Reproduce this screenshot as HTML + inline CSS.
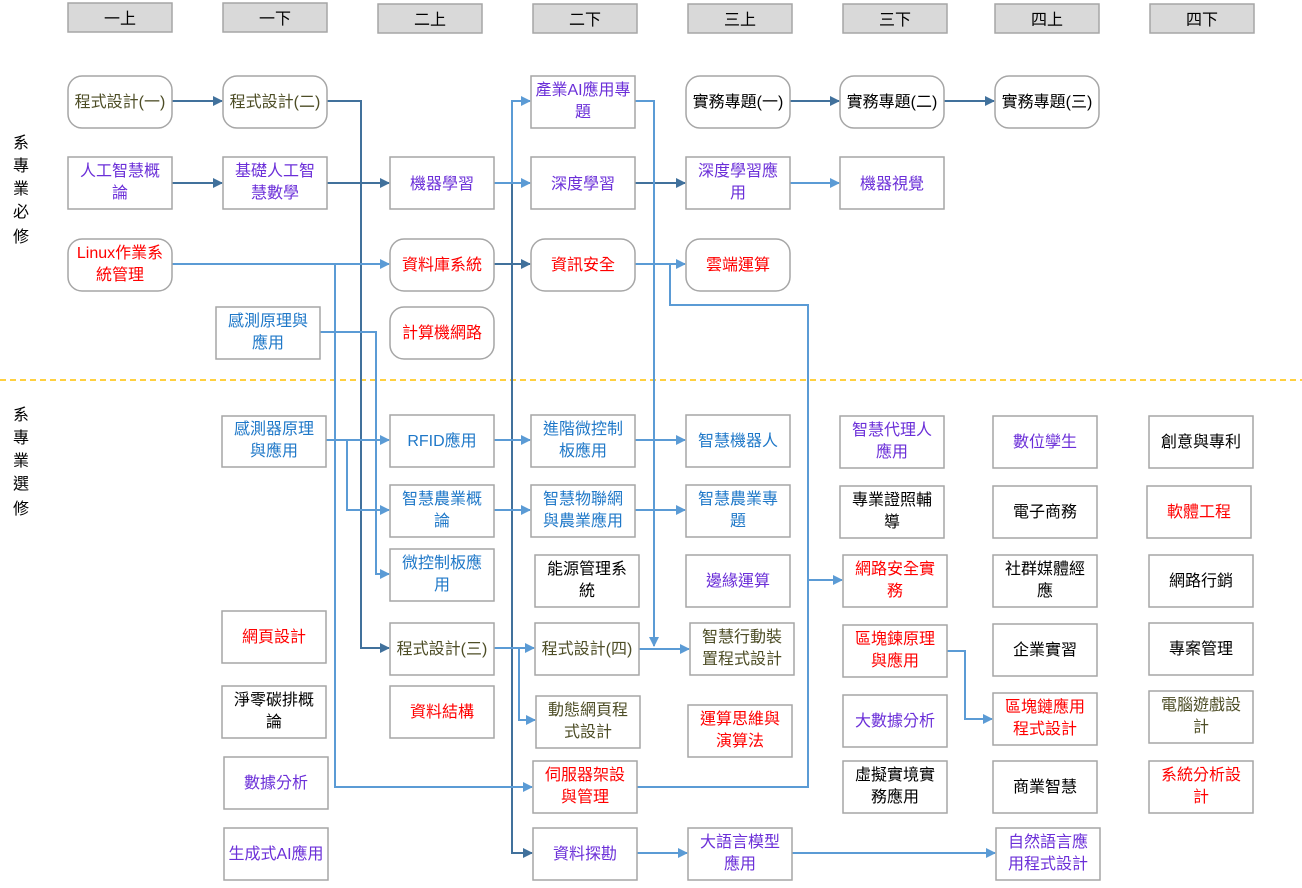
<!DOCTYPE html>
<html><head><meta charset="utf-8"><style>
html,body{margin:0;padding:0;background:#fff;}
svg text{font-family:"Liberation Sans","Noto Sans CJK TC",sans-serif;font-size:16px;text-anchor:middle;}
</style></head><body>
<svg width="1302" height="883" viewBox="0 0 1302 883" xmlns="http://www.w3.org/2000/svg">
<defs>
<marker id="ad" markerWidth="10" markerHeight="10" refX="9" refY="5" orient="auto" markerUnits="userSpaceOnUse"><path d="M0,0 L10,5 L0,10 z" fill="#41719c"/></marker>
<marker id="al" markerWidth="10" markerHeight="10" refX="9" refY="5" orient="auto" markerUnits="userSpaceOnUse"><path d="M0,0 L10,5 L0,10 z" fill="#5b9bd5"/></marker>
</defs>
<g fill="#d9d9d9" stroke="#a6a6a6" stroke-width="1.5">
<rect x="68" y="3" width="104" height="29"/><rect x="223" y="3" width="104" height="29"/><rect x="378" y="4" width="104" height="29"/><rect x="533" y="4" width="104" height="29"/><rect x="688" y="4" width="104" height="29"/><rect x="843" y="4" width="104" height="29"/><rect x="995" y="4" width="104" height="29"/><rect x="1150" y="4" width="104" height="29"/>
</g>
<g fill="#000" style="font-size:17px">
<text x="120" y="24">一上</text><text x="275" y="24">一下</text><text x="430" y="25">二上</text><text x="585" y="25">二下</text><text x="740" y="25">三上</text><text x="895" y="25">三下</text><text x="1047" y="25">四上</text><text x="1202" y="25">四下</text>
</g>
<g fill="#000" style="font-size:18px">
<text x="21" y="148">系</text><text x="21" y="171">專</text><text x="21" y="194">業</text><text x="21" y="217">必</text><text x="21" y="242">修</text>
<text x="21" y="420">系</text><text x="21" y="443">專</text><text x="21" y="466">業</text><text x="21" y="489">選</text><text x="21" y="514">修</text>
</g>
<line x1="0" y1="380" x2="1302" y2="380" stroke="#ffc000" stroke-width="1.5" stroke-dasharray="6,4"/>

<!-- connectors -->
<g fill="none" stroke-width="2">
<g stroke="#41719c">
<path d="M172,101H222" marker-end="url(#ad)"/>
<path d="M172,183H222" marker-end="url(#ad)"/>
<path d="M327,183H389" marker-end="url(#ad)"/>
<path d="M327,101H361V648H389" marker-end="url(#ad)"/>
<path d="M635,183H685" marker-end="url(#ad)"/>
<path d="M790,101H839" marker-end="url(#ad)"/>
<path d="M944,101H994" marker-end="url(#ad)"/>
<path d="M494,264H530" marker-end="url(#ad)"/>
<path d="M512,183V853H532" marker-end="url(#ad)"/>
</g>
<g stroke="#5b9bd5">
<path d="M494,183H530" marker-end="url(#al)"/>
<path d="M790,183H839" marker-end="url(#al)"/>
<path d="M172,264H389" marker-end="url(#al)"/>
<path d="M335,264V787H532" marker-end="url(#al)"/>
<path d="M635,264H685" marker-end="url(#al)"/>
<path d="M670,264V305H808V787H637"/>
<path d="M808,580H842" marker-end="url(#al)"/>
<path d="M512,183V101H530" marker-end="url(#al)"/>
<path d="M635,101H654V646" marker-end="url(#al)"/>
<path d="M639,649H689" marker-end="url(#al)"/>
<path d="M320,332H376V574H389" marker-end="url(#al)"/>
<path d="M326,440H389" marker-end="url(#al)"/>
<path d="M347,440V510H389" marker-end="url(#al)"/>
<path d="M494,440H530" marker-end="url(#al)"/>
<path d="M635,440H685" marker-end="url(#al)"/>
<path d="M494,510H530" marker-end="url(#al)"/>
<path d="M635,510H685" marker-end="url(#al)"/>
<path d="M494,648H534" marker-end="url(#al)"/>
<path d="M519,648V720H535" marker-end="url(#al)"/>
<path d="M947,651H965V719H992" marker-end="url(#al)"/>
<path d="M637,853H687" marker-end="url(#al)"/>
<path d="M792,853H995" marker-end="url(#al)"/>
</g>
</g>

<!-- boxes -->
<g stroke="#a6a6a6" stroke-width="1.5" fill="#fff">
<rect x="68" y="76" width="104" height="52" rx="14"/>
<rect x="223" y="76" width="104" height="52" rx="14"/>
<rect x="531" y="76" width="104" height="52"/>
<rect x="686" y="76" width="104" height="52" rx="14"/>
<rect x="840" y="76" width="104" height="52" rx="14"/>
<rect x="995" y="76" width="104" height="52" rx="14"/>
<rect x="68" y="157" width="104" height="52"/>
<rect x="223" y="157" width="104" height="52"/>
<rect x="390" y="157" width="104" height="52"/>
<rect x="531" y="157" width="104" height="52"/>
<rect x="686" y="157" width="104" height="52"/>
<rect x="840" y="157" width="104" height="52"/>
<rect x="68" y="239" width="104" height="52" rx="14"/>
<rect x="390" y="239" width="104" height="52" rx="14"/>
<rect x="531" y="239" width="104" height="52" rx="14"/>
<rect x="686" y="239" width="104" height="52" rx="14"/>
<rect x="216" y="307" width="104" height="52"/>
<rect x="390" y="307" width="104" height="52" rx="14"/>

<rect x="222" y="416" width="104" height="51"/>
<rect x="390" y="415" width="104" height="52"/>
<rect x="531" y="415" width="104" height="52"/>
<rect x="686" y="415" width="104" height="52"/>
<rect x="840" y="416" width="104" height="52"/>
<rect x="993" y="416" width="104" height="52"/>
<rect x="1149" y="416" width="104" height="52"/>
<rect x="390" y="485" width="104" height="52"/>
<rect x="531" y="485" width="104" height="52"/>
<rect x="686" y="485" width="104" height="52"/>
<rect x="840" y="486" width="104" height="52"/>
<rect x="993" y="486" width="104" height="52"/>
<rect x="1147" y="486" width="104" height="52"/>
<rect x="390" y="549" width="104" height="52"/>
<rect x="535" y="555" width="104" height="52"/>
<rect x="686" y="555" width="104" height="52"/>
<rect x="843" y="555" width="104" height="52"/>
<rect x="993" y="555" width="104" height="52"/>
<rect x="1149" y="555" width="104" height="52"/>
<rect x="222" y="611" width="104" height="52"/>
<rect x="390" y="623" width="104" height="52"/>
<rect x="535" y="623" width="104" height="52"/>
<rect x="690" y="623" width="104" height="52"/>
<rect x="843" y="625" width="104" height="52"/>
<rect x="993" y="624" width="104" height="52"/>
<rect x="1149" y="623" width="104" height="52"/>
<rect x="222" y="686" width="104" height="52"/>
<rect x="390" y="686" width="104" height="52"/>
<rect x="536" y="696" width="104" height="52"/>
<rect x="688" y="705" width="104" height="52"/>
<rect x="843" y="695" width="104" height="52"/>
<rect x="993" y="693" width="104" height="52"/>
<rect x="1149" y="691" width="104" height="52"/>
<rect x="224" y="757" width="104" height="52"/>
<rect x="533" y="761" width="104" height="52"/>
<rect x="843" y="761" width="104" height="52"/>
<rect x="993" y="761" width="104" height="52"/>
<rect x="1149" y="761" width="104" height="52"/>
<rect x="224" y="828" width="104" height="52"/>
<rect x="533" y="828" width="104" height="52"/>
<rect x="688" y="828" width="104" height="52"/>
<rect x="996" y="828" width="104" height="52"/>
</g>

<!-- text -->
<g>
<g fill="#4d4d26">
<text x="120" y="107">程式設計(一)</text><text x="275" y="107">程式設計(二)</text>
<text x="442" y="654">程式設計(三)</text><text x="587" y="654">程式設計(四)</text>
<text x="742" y="642">智慧行動裝</text><text x="742" y="664">置程式設計</text>
<text x="588" y="715">動態網頁程</text><text x="588" y="737">式設計</text>
<text x="1201" y="710">電腦遊戲設</text><text x="1201" y="732">計</text>
</g>
<g fill="#000">
<text x="738" y="107">實務專題(一)</text><text x="892" y="107">實務專題(二)</text><text x="1047" y="107">實務專題(三)</text>
<text x="1201" y="447">創意與專利</text>
<text x="892" y="505">專業證照輔</text><text x="892" y="527">導</text>
<text x="1045" y="517">電子商務</text>
<text x="587" y="574">能源管理系</text><text x="587" y="596">統</text>
<text x="1045" y="574">社群媒體經</text><text x="1045" y="596">應</text>
<text x="1201" y="586">網路行銷</text>
<text x="1045" y="655">企業實習</text><text x="1201" y="654">專案管理</text>
<text x="274" y="705">淨零碳排概</text><text x="274" y="727">論</text>
<text x="895" y="780">虛擬實境實</text><text x="895" y="802">務應用</text>
<text x="1045" y="792">商業智慧</text>
</g>
<g fill="#6b2fd8">
<text x="583" y="95">產業AI應用專</text><text x="583" y="117">題</text>
<text x="120" y="176">人工智慧概</text><text x="120" y="198">論</text>
<text x="275" y="176">基礎人工智</text><text x="275" y="198">慧數學</text>
<text x="442" y="189">機器學習</text><text x="583" y="189">深度學習</text>
<text x="738" y="176">深度學習應</text><text x="738" y="198">用</text>
<text x="892" y="189">機器視覺</text>
<text x="892" y="435">智慧代理人</text><text x="892" y="457">應用</text>
<text x="1045" y="447">數位孿生</text>
<text x="738" y="586">邊緣運算</text>
<text x="895" y="726">大數據分析</text>
<text x="276" y="788">數據分析</text>
<text x="276" y="859">生成式AI應用</text>
<text x="585" y="859">資料探勘</text>
<text x="740" y="847">大語言模型</text><text x="740" y="869">應用</text>
<text x="1048" y="847">自然語言應</text><text x="1048" y="869">用程式設計</text>
</g>
<g fill="#ff0000">
<text x="120" y="258">Linux作業系</text><text x="120" y="280">統管理</text>
<text x="442" y="270">資料庫系統</text><text x="583" y="270">資訊安全</text><text x="738" y="270">雲端運算</text>
<text x="442" y="338">計算機網路</text>
<text x="1199" y="517">軟體工程</text>
<text x="895" y="574">網路安全實</text><text x="895" y="596">務</text>
<text x="274" y="642">網頁設計</text>
<text x="895" y="644">區塊鍊原理</text><text x="895" y="666">與應用</text>
<text x="442" y="717">資料結構</text>
<text x="740" y="724">運算思維與</text><text x="740" y="746">演算法</text>
<text x="1045" y="712">區塊鏈應用</text><text x="1045" y="734">程式設計</text>
<text x="585" y="780">伺服器架設</text><text x="585" y="802">與管理</text>
<text x="1201" y="780">系統分析設</text><text x="1201" y="802">計</text>
</g>
<g fill="#1f78c8">
<text x="268" y="326">感測原理與</text><text x="268" y="348">應用</text>
<text x="274" y="434">感測器原理</text><text x="274" y="456">與應用</text>
<text x="442" y="446">RFID應用</text>
<text x="583" y="434">進階微控制</text><text x="583" y="456">板應用</text>
<text x="738" y="446">智慧機器人</text>
<text x="442" y="504">智慧農業概</text><text x="442" y="526">論</text>
<text x="583" y="504">智慧物聯網</text><text x="583" y="526">與農業應用</text>
<text x="738" y="504">智慧農業專</text><text x="738" y="526">題</text>
<text x="442" y="568">微控制板應</text><text x="442" y="590">用</text>
</g>
</g>
</svg>
</body></html>
